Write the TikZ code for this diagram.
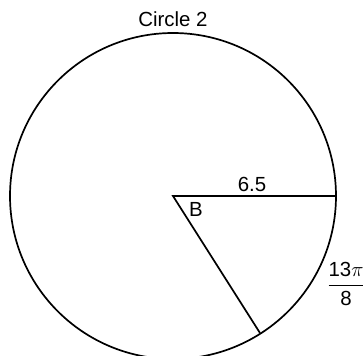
\documentclass[tikz,border=0pt]{standalone}
\usepackage{amsmath}
\usepackage{fontspec}
\setmainfont{Liberation Sans}
\begin{document}
\begin{tikzpicture}[x=1bp,y=-1bp,
  edge/.style={line width=1.7bp,black},
  lbl/.style={inner sep=0pt,font=\fontsize{20.5}{24}\selectfont}]
\useasboundingbox (0,0) rectangle (364,356);
\clip (0,0) rectangle (364,356);
\coordinate (O) at (173,196);
\coordinate (A) at (336,196);
\coordinate (C) at (260,333);
\draw[edge] (O) circle[radius=163];
\draw[edge] (A) -- (O) -- (C);
\node[lbl] (title) at (173,19) {Circle 2};
\node[lbl] (r) at (252,184) {6.5};
\node[lbl] (b) at (196,209) {B};
\node[lbl] (arc) at (346,284) {$\dfrac{\text{13}\pi}{\text{8}}$};
\end{tikzpicture}
\end{document}
